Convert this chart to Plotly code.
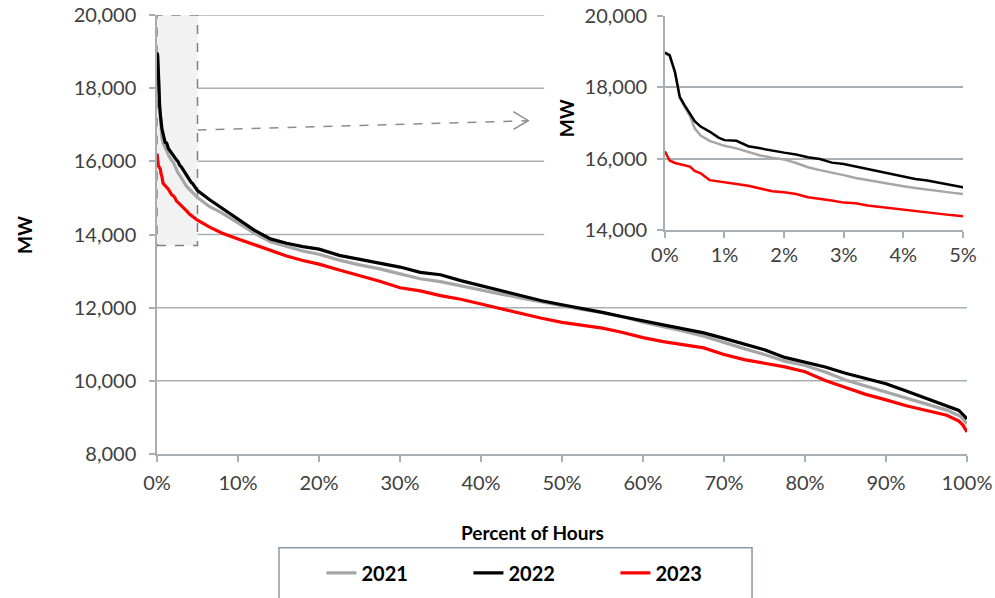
import plotly.graph_objects as go

# Percent of hours (x) and load (MW) for each year
pct = [0, 0.08, 0.17, 0.25, 0.33, 0.42, 0.5, 0.6, 0.75, 0.9, 1.0, 1.2, 1.4, 1.6, 1.8,
       2.0, 2.2, 2.4, 2.6, 2.8, 3.0, 3.2, 3.4, 3.6, 3.8, 4.0, 4.2, 4.4, 4.6, 4.8, 5.0,
       6.5, 8, 10, 12, 14, 16, 18, 20, 22.5, 25, 27.5, 30, 32.5, 35, 37.5, 40, 42.5,
       45, 47.5, 50, 52.5, 55, 57.5, 60, 62.5, 65, 67.5, 70, 72.5, 75, 77.5, 80, 82.5,
       85, 87.5, 90, 92.5, 95, 97.5, 99, 99.5, 100]

mw_2021 = [18950, 18880, 18400, 17700, 17450, 17200, 16850, 16650, 16500, 16410, 16360,
           16290, 16180, 16090, 16030, 15980, 15880, 15760, 15680, 15620, 15540, 15460,
           15400, 15330, 15280, 15230, 15180, 15130, 15090, 15050, 15010,
           14760, 14590, 14320, 14040, 13800, 13670, 13550, 13460, 13300, 13170, 13060,
           12925, 12790, 12710, 12590, 12480, 12370, 12260, 12150, 12050, 11950, 11860,
           11750, 11600, 11490, 11360, 11220, 11040, 10880, 10720, 10540, 10420, 10240,
           10020, 9860, 9690, 9520, 9360, 9200, 9050, 8960, 8830]

mw_2022 = [18970, 18900, 18430, 17730, 17500, 17270, 17050, 16900, 16760, 16590, 16520,
           16500, 16350, 16290, 16220, 16170, 16120, 16040, 15990, 15890, 15850, 15780,
           15700, 15630, 15550, 15490, 15430, 15390, 15320, 15260, 15200,
           14950, 14720, 14420, 14120, 13880, 13760, 13670, 13600, 13430, 13320, 13200,
           13110, 12965, 12900, 12740, 12600, 12460, 12320, 12190, 12080, 11980, 11870,
           11750, 11650, 11530, 11420, 11310, 11160, 11000, 10850, 10640, 10520, 10380,
           10205, 10070, 9920, 9720, 9510, 9310, 9190, 9080, 8960]

mw_2023 = [16210, 15950, 15880, 15850, 15800, 15780, 15660, 15590, 15400, 15370, 15350,
           15290, 15240, 15160, 15090, 15060, 15010, 14920, 14880, 14830, 14770, 14750,
           14690, 14650, 14610, 14560, 14530, 14500, 14450, 14420, 14390,
           14200, 14040, 13880, 13720, 13570, 13410, 13290, 13190, 13030, 12880, 12720,
           12545, 12460, 12330, 12230, 12100, 11970, 11830, 11710, 11600, 11520, 11440,
           11320, 11180, 11070, 10990, 10900, 10720, 10580, 10480, 10380, 10250, 10010,
           9820, 9630, 9480, 9320, 9190, 9060, 8900, 8790, 8600]

years = ["2021", "2022", "2023"]
colors = ["#a6a6a6", "#000000", "#ff0000"]
series = [mw_2021, mw_2022, mw_2023]

main_yticks = [8000, 10000, 12000, 14000, 16000, 18000, 20000]
main_xticks = [0, 10, 20, 30, 40, 50, 60, 70, 80, 90, 100]
main_xlabels = ["0%", "10%", "20%", "30%", "40%", "50%", "60%", "70%", "80%", "90%", "100%"]
inset_yticks = [14000, 16000, 18000, 20000]
inset_xticks = [0, 1, 2, 3, 4, 5]
inset_xlabels = ["0%", "1%", "2%", "3%", "4%", "5%"]

FONT = "Lato"
GRID = "#a7afb5"
TICKC = "#404040"

fig = go.Figure()
for name, col, ys in zip(years, colors, series):
    fig.add_trace(go.Scatter(x=pct, y=ys, mode="lines", name=name,
                             line=dict(color=col, width=3.2), xaxis="x", yaxis="y"))
for name, col, ys in zip(years, colors, series):
    fig.add_trace(go.Scatter(x=pct, y=ys, mode="lines", name=name, showlegend=False,
                             line=dict(color=col, width=2.5), xaxis="x2", yaxis="y2"))

shapes = []
# main gridlines
for v in main_yticks[1:]:
    x1 = 1.0 if v <= 12000 else 0.478
    shapes.append(dict(type="line", xref="paper", yref="y", x0=0, x1=x1, y0=v, y1=v,
                       line=dict(color=GRID, width=1.5), layer="below"))
# zoom box
shapes.append(dict(type="rect", xref="x", yref="y", x0=0, x1=5, y0=13700, y1=20000,
                   fillcolor="#f2f2f2", line=dict(color="#808080", width=1.5, dash="dash"),
                   layer="below"))
# dashed arrow
shapes.append(dict(type="line", xref="x", yref="y", x0=5, y0=16857, x1=45.8, y1=17111,
                   line=dict(color="#8c8c8c", width=1.5, dash="dash")))
shapes.append(dict(type="path", xref="x", yref="y",
                   path="M 44.0,17357 L 45.84,17111 L 44.0,16876",
                   line=dict(color="#8c8c8c", width=1.5)))
# legend box
shapes.append(dict(type="rect", xref="paper", yref="paper", x0=0.1506, x1=0.7346,
                   y0=-0.2134, y1=-0.45, line=dict(color="#8a9aa8", width=1.5)))

annotations = [
    dict(text="<b>MW</b>", xref="paper", yref="paper", x=-0.163, y=0.499, showarrow=False,
         xanchor="center", yanchor="middle",
         textangle=-90, font=dict(family=FONT, size=19, color="#000000")),
    dict(text="<b>MW</b>", xref="paper", yref="paper", x=0.505, y=0.765, showarrow=False,
         xanchor="center", yanchor="middle",
         textangle=-90, font=dict(family=FONT, size=19, color="#000000")),
    dict(text="<b>Percent of Hours</b>", xref="paper", yref="paper", x=0.463, y=-0.178,
         xanchor="center", yanchor="middle",
         showarrow=False, font=dict(family=FONT, size=19, color="#000000")),
]

axis_common = dict(showline=True, linecolor=GRID, linewidth=1.5, ticks="outside",
                   tickcolor=GRID, ticklen=6, tickwidth=1.5, zeroline=False,
                   automargin=False, ticklabeloverflow="allow",
                   tickfont=dict(family=FONT, size=20, color=TICKC))

fig.update_layout(
    width=995, height=598,
    margin=dict(l=157, r=28, t=15, b=144, autoexpand=False),
    paper_bgcolor="white", plot_bgcolor="white",
    font=dict(family=FONT, color=TICKC),
    xaxis=dict(domain=[0, 1], range=[0, 100], tickmode="array", tickvals=main_xticks,
               ticktext=main_xlabels, showgrid=False, ticklabelstandoff=4, **axis_common),
    yaxis=dict(domain=[0, 1], range=[8000, 20000], tickvals=main_yticks, tickformat=",d",
               showgrid=False, ticklabelstandoff=9, **axis_common),
    xaxis2=dict(domain=[0.627, 0.995], range=[0, 5], tickmode="array", tickvals=inset_xticks,
                ticktext=inset_xlabels, anchor="y2", showgrid=False, **axis_common),
    yaxis2=dict(domain=[0.51, 0.998], range=[14000, 20000], tickvals=inset_yticks,
                tickformat=",d", anchor="x2", showgrid=True, gridcolor=GRID, gridwidth=1.5,
                ticklabelstandoff=6, **axis_common),
    shapes=shapes,
    annotations=annotations,
    showlegend=True,
    legend=dict(orientation="h", x=0.203, xanchor="left", y=-0.271, yanchor="middle",
                font=dict(family=FONT, size=20, color="#000000", weight="bold"),
                entrywidth=102, bgcolor="rgba(0,0,0,0)"),
)

# remove the default 8px page margin so the figure sits at the window's corner
fig.write_html("out.html", config={"displayModeBar": False},
               post_script="document.body.style.margin='0px';document.body.style.overflow='hidden';")
